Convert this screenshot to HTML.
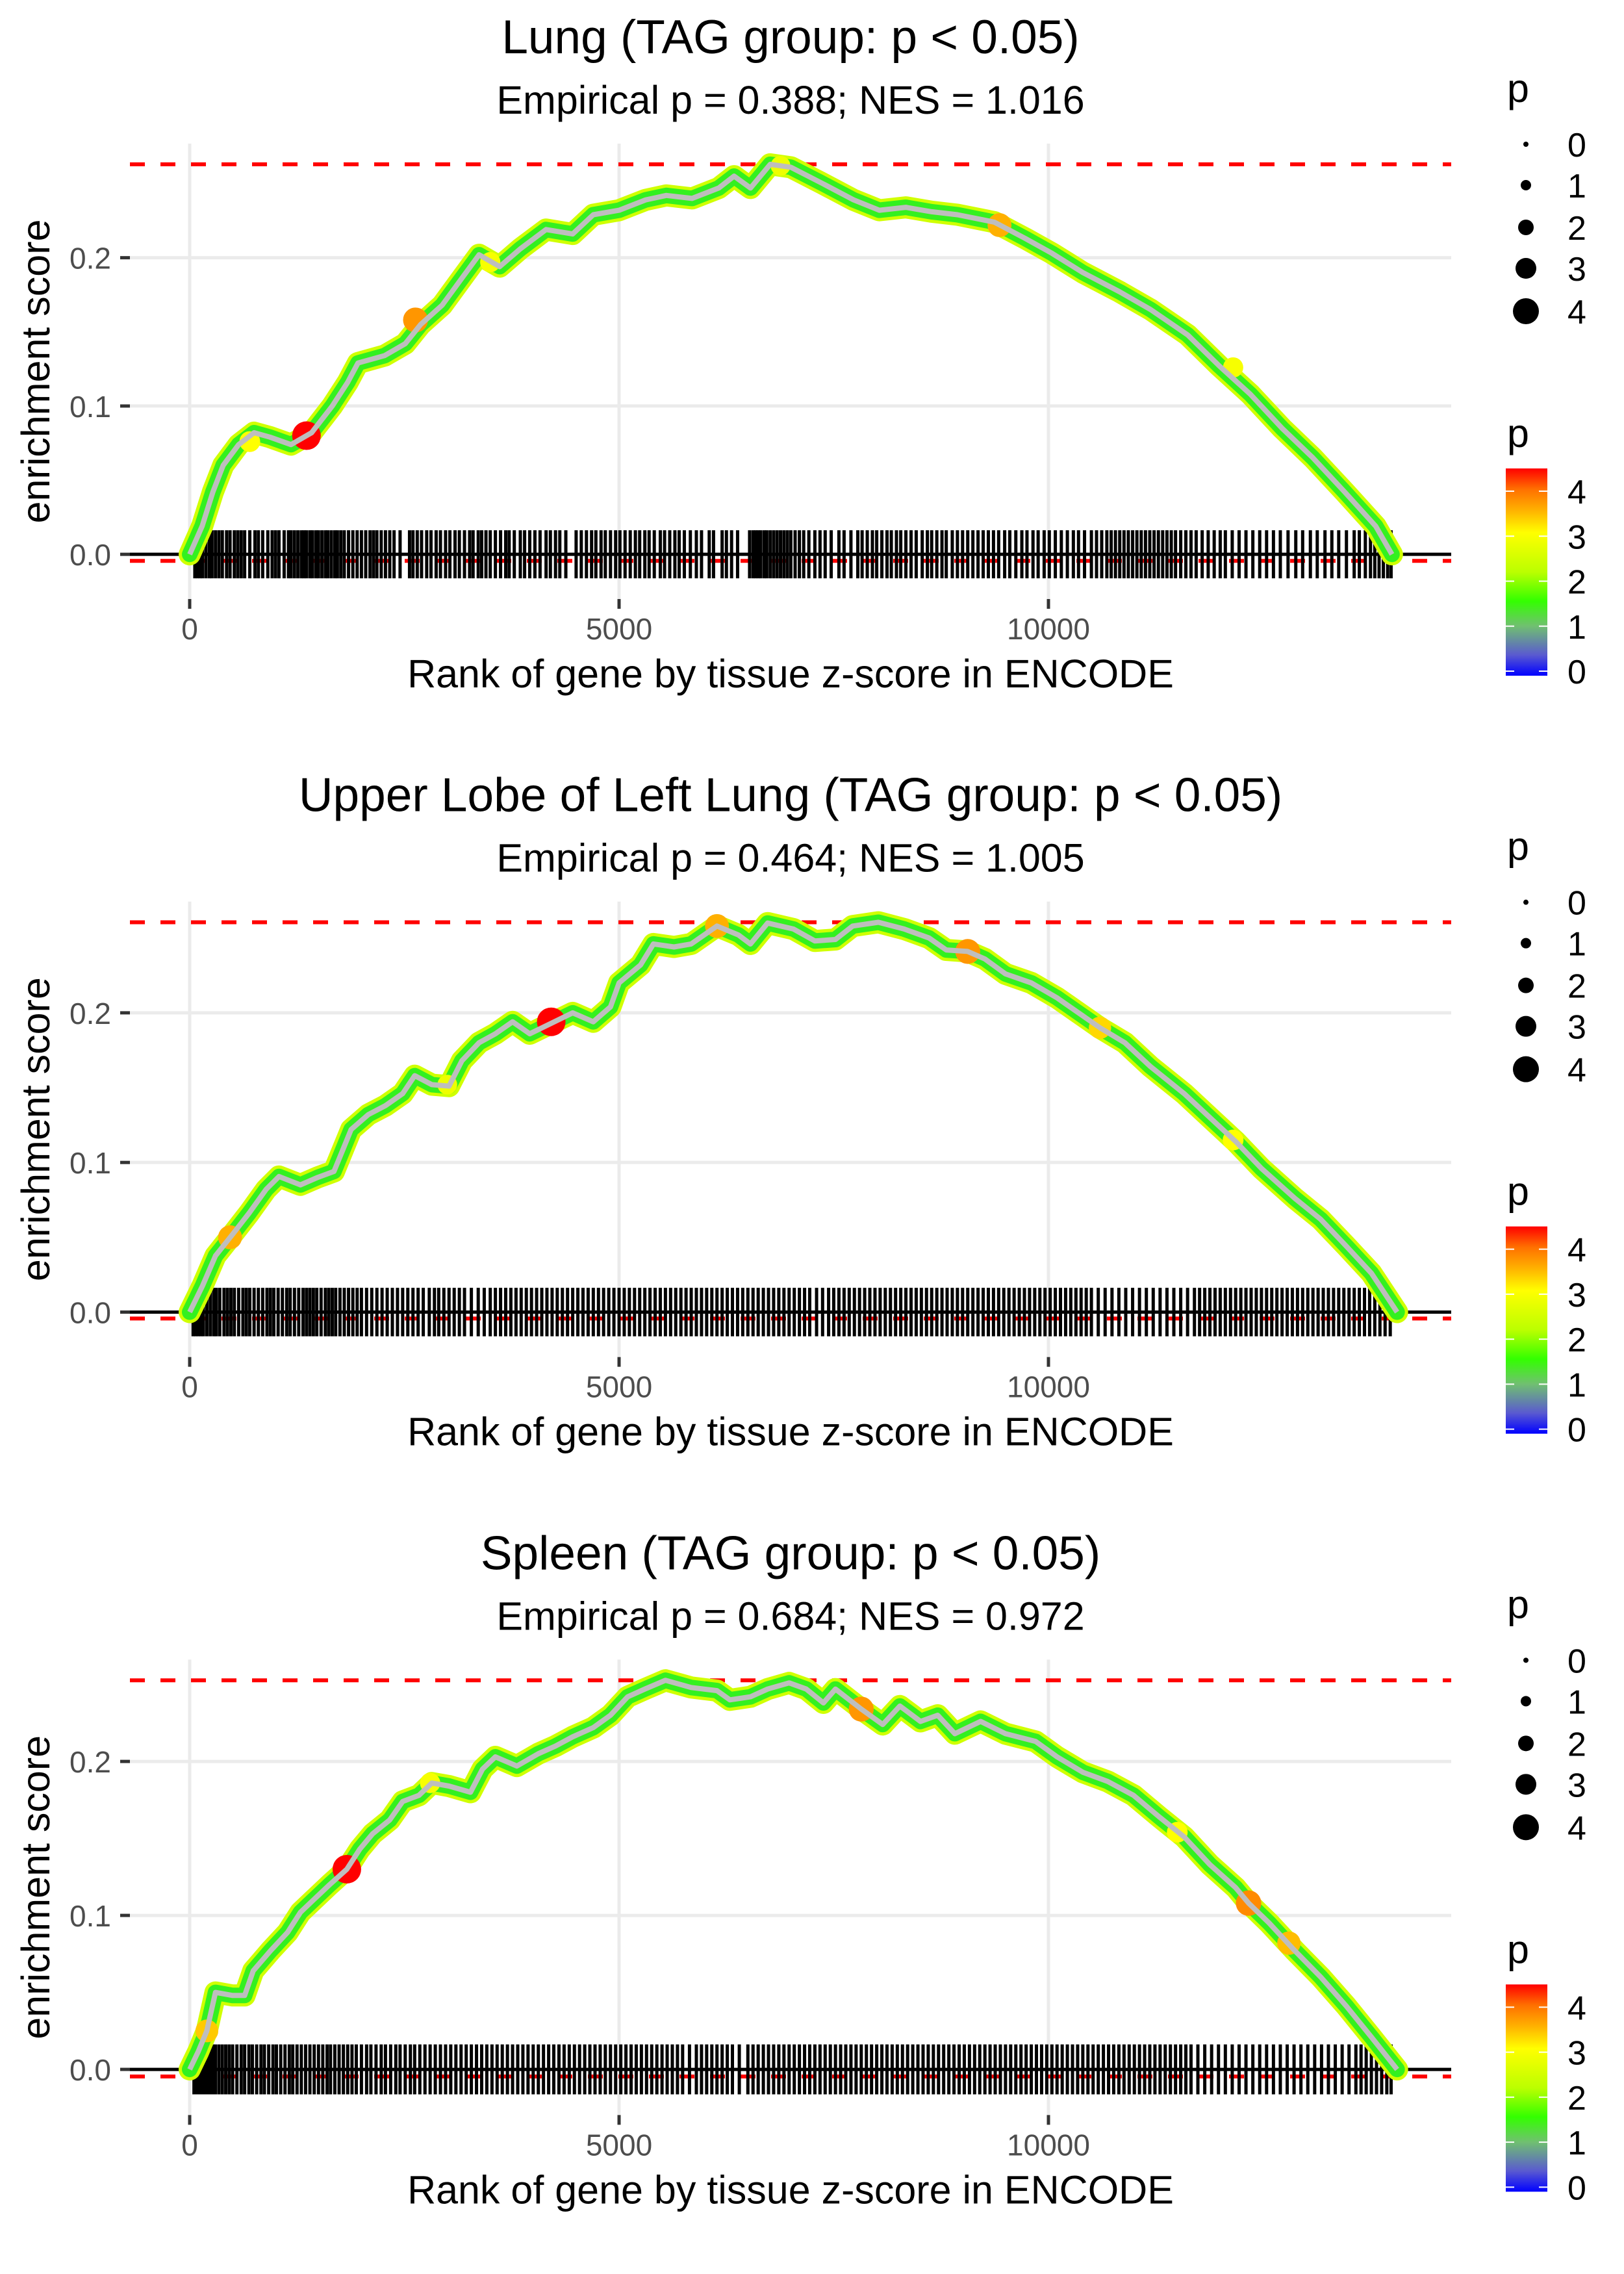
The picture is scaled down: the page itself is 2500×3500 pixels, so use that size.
<!DOCTYPE html>
<html><head><meta charset="utf-8"><title>Enrichment plots</title>
<style>html,body{margin:0;padding:0;background:#fff;}svg{display:block;}text{font-family:"Liberation Sans",Arial,sans-serif;}</style>
</head><body>
<svg id="chart" xmlns="http://www.w3.org/2000/svg" width="2500" height="3500" viewBox="0 0 2500 3500">
<defs>
<linearGradient id="pgrad" x1="0" y1="1" x2="0" y2="0">
<stop offset="0" stop-color="#0000ff"/>
<stop offset="0.1" stop-color="#5a5ad0"/>
<stop offset="0.24" stop-color="#70c070"/>
<stop offset="0.36" stop-color="#33ff00"/>
<stop offset="0.5" stop-color="#bbff00"/>
<stop offset="0.69" stop-color="#ffff00"/>
<stop offset="0.8" stop-color="#ffb000"/>
<stop offset="0.9" stop-color="#ff7000"/>
<stop offset="1" stop-color="#ff0000"/>
</linearGradient>
</defs>
</svg>
<script>
// ---- data ----
const panelTitles = ["Lung (TAG group: p < 0.05)", "Upper Lobe of Left Lung (TAG group: p < 0.05)", "Spleen (TAG group: p < 0.05)"];
const panelSubtitles = ["Empirical p = 0.388; NES = 1.016", "Empirical p = 0.464; NES = 1.005", "Empirical p = 0.684; NES = 0.972"];
const maxES = [0.263, 0.2605, 0.2527];
const minES = [-0.0044, -0.0043, -0.0046];
const xTicks = [0, 5000, 10000];
const yTicks = [0.0, 0.1, 0.2];
const yTickLabels = ["0.0", "0.1", "0.2"];
const sizeLegendValues = [0, 1, 2, 3, 4];
const colorLegendValues = [0, 1, 2, 3, 4];

const rank1 = [0,145,270,390,570,750,935,1180,1420,1660,1840,1960,2270,2510,2690,2940,3180,3370,3610,3850,4150,4460,4700,5000,5310,5550,5850,6160,6340,6530,6760,7000,7370,7730,8030,8340,8640,8940,9370,9730,10040,10400,10830,11190,11620,11990,12350,12720,13080,13450,13810,14000];
const es1 = [0,0.019,0.042,0.06,0.074,0.082,0.079,0.074,0.082,0.1,0.116,0.129,0.134,0.142,0.155,0.168,0.187,0.202,0.194,0.206,0.219,0.216,0.229,0.232,0.239,0.242,0.24,0.247,0.255,0.247,0.263,0.261,0.25,0.239,0.232,0.234,0.231,0.229,0.224,0.213,0.203,0.19,0.177,0.165,0.148,0.127,0.108,0.085,0.065,0.042,0.019,0];
const rank2 = [0,150,300,500,690,890,1040,1290,1490,1680,1780,1880,2080,2280,2480,2620,2820,3020,3170,3370,3560,3760,3960,4210,4460,4700,4900,5000,5250,5400,5640,5840,6140,6390,6530,6730,7030,7280,7520,7720,8020,8320,8610,8810,9060,9260,9500,9800,10100,10300,10600,10890,11190,11580,11880,12180,12480,12870,13170,13470,13760,14060];
const es2 = [0,0.0176,0.0376,0.052,0.066,0.082,0.0906,0.085,0.09,0.094,0.108,0.122,0.132,0.138,0.146,0.158,0.152,0.151,0.168,0.18,0.186,0.194,0.186,0.193,0.2,0.194,0.204,0.22,0.232,0.246,0.244,0.246,0.258,0.252,0.246,0.26,0.256,0.248,0.249,0.258,0.2605,0.256,0.25,0.242,0.241,0.236,0.226,0.22,0.21,0.202,0.19,0.18,0.164,0.146,0.13,0.114,0.096,0.076,0.062,0.044,0.026,0];
const rank3 = [0,100,200,300,500,640,740,940,1140,1290,1440,1630,1830,1980,2130,2330,2480,2670,2820,3020,3270,3410,3560,3810,4060,4260,4460,4700,4900,5100,5300,5540,5840,6140,6290,6530,6730,6980,7180,7380,7520,7820,8070,8270,8510,8710,8910,9210,9500,9850,10100,10400,10690,10990,11290,11580,11880,12180,12330,12570,12870,13170,13470,13760,14060];
const es3 = [0,0.0116,0.025,0.05,0.048,0.048,0.064,0.077,0.089,0.102,0.11,0.12,0.13,0.143,0.153,0.162,0.174,0.178,0.186,0.184,0.18,0.195,0.203,0.197,0.205,0.21,0.216,0.222,0.23,0.242,0.247,0.2527,0.248,0.246,0.24,0.242,0.247,0.251,0.247,0.238,0.247,0.234,0.224,0.236,0.226,0.23,0.218,0.226,0.218,0.213,0.203,0.193,0.187,0.178,0.164,0.151,0.133,0.118,0.108,0.095,0.077,0.06,0.041,0.021,0];

const hitRank1 = [1360,2630,9430,700,3500,6880,12150];
const hitES1 = [0.08,0.158,0.222,0.076,0.197,0.262,0.126];
const hitP1 = [4.5,3.8,3.6,3.0,2.9,2.8,2.9];
const hitRank2 = [4210,9060,6140,470,10600,12150,3000];
const hitES2 = [0.194,0.241,0.258,0.05,0.19,0.115,0.152];
const hitP2 = [4.5,3.8,3.6,3.6,3.3,3.0,2.8];
const hitRank3 = [1830,7820,12330,12800,200,2800,11500];
const hitES3 = [0.13,0.234,0.108,0.082,0.025,0.186,0.154];
const hitP3 = [4.5,3.8,3.9,3.5,3.4,2.9,3.0];

const rug1 = [60,90,120,150,190,230,260,300,340,380,430,470,520,560,600,640,700,760,800,850,910,960,1000,1040,1100,1150,1180,1220,1260,1300,1330,1360,1400,1430,1470,1500,1540,1580,1610,1650,1690,1720,1760,1800,1850,1900,1950,2000,2050,2100,2140,2180,2230,2280,2330,2380,2450,2560,2600,2650,2700,2760,2810,2870,2920,2980,3030,3090,3140,3200,3260,3300,3360,3400,3450,3500,3560,3620,3680,3720,3780,3850,3900,3960,4020,4080,4150,4200,4260,4310,4380,4500,4560,4620,4680,4730,4790,4840,4900,4960,5010,5070,5130,5190,5240,5300,5350,5410,5480,5530,5590,5650,5700,5760,5830,5900,5960,6050,6100,6200,6250,6310,6380,6520,6560,6590,6620,6650,6690,6720,6760,6800,6840,6880,6920,6960,7000,7050,7100,7150,7210,7280,7340,7400,7470,7560,7620,7700,7780,7830,7890,7950,8000,8060,8120,8170,8230,8280,8340,8400,8460,8530,8590,8640,8700,8760,8810,8880,8940,9000,9060,9120,9180,9240,9300,9360,9420,9490,9550,9620,9690,9750,9820,9880,9950,10010,10080,10150,10220,10290,10350,10420,10500,10560,10620,10680,10730,10780,10830,10880,10930,10980,11030,11080,11130,11180,11230,11280,11330,11380,11430,11480,11540,11600,11660,11720,11790,11860,11930,12000,12060,12140,12220,12300,12380,12460,12540,12620,12700,12790,12880,12960,13050,13130,13220,13300,13380,13470,13560,13620,13690,13750,13800,13850,13900,13950,13990];
const rug2 = [40,70,100,130,160,200,240,280,310,350,400,440,480,520,570,620,660,700,750,800,850,900,940,980,1030,1080,1130,1170,1220,1270,1320,1360,1400,1440,1480,1530,1580,1620,1660,1700,1750,1800,1850,1900,1950,2000,2060,2120,2180,2240,2300,2360,2420,2480,2540,2600,2660,2720,2790,2850,2900,2960,3020,3080,3140,3200,3280,3360,3430,3500,3560,3620,3680,3740,3800,3860,3920,3980,4040,4100,4160,4220,4280,4340,4400,4460,4520,4580,4640,4700,4760,4820,4880,4940,5000,5060,5120,5180,5240,5300,5360,5420,5480,5540,5600,5660,5720,5780,5840,5900,5960,6020,6080,6140,6200,6260,6320,6380,6440,6500,6560,6620,6680,6740,6800,6860,6920,6980,7040,7100,7160,7220,7300,7370,7440,7500,7560,7620,7680,7740,7800,7860,7920,7980,8040,8100,8160,8220,8280,8340,8400,8460,8520,8580,8640,8700,8760,8820,8880,8940,9000,9060,9120,9180,9240,9300,9360,9420,9480,9540,9600,9660,9720,9780,9840,9900,9960,10020,10080,10140,10200,10260,10320,10380,10440,10500,10580,10660,10740,10820,10900,10980,11060,11140,11220,11300,11380,11460,11540,11620,11700,11760,11820,11880,11940,12000,12060,12120,12180,12240,12300,12360,12420,12480,12540,12600,12660,12720,12780,12840,12900,12960,13020,13080,13140,13200,13260,13320,13380,13440,13500,13560,13620,13680,13740,13800,13860,13920,13980];
const rug3 = [50,70,90,110,130,150,180,210,240,270,300,340,380,420,460,500,550,600,640,690,730,780,830,870,920,970,1010,1060,1110,1160,1200,1250,1300,1350,1400,1450,1500,1550,1600,1640,1690,1740,1790,1840,1890,1940,2000,2060,2110,2170,2230,2280,2340,2400,2450,2510,2570,2620,2680,2740,2800,2860,2920,2980,3040,3100,3160,3220,3280,3340,3400,3460,3520,3580,3640,3700,3760,3820,3880,3940,4000,4060,4120,4180,4240,4300,4360,4420,4480,4540,4600,4660,4720,4780,4840,4900,4960,5020,5080,5140,5200,5260,5320,5380,5440,5500,5560,5620,5680,5740,5820,5900,5960,6020,6080,6140,6200,6260,6320,6400,6500,6560,6620,6680,6740,6800,6860,6920,6980,7040,7100,7160,7220,7280,7340,7400,7460,7520,7580,7640,7700,7760,7820,7880,7940,8000,8060,8120,8180,8240,8300,8360,8420,8480,8540,8600,8660,8720,8780,8840,8900,8960,9020,9080,9140,9200,9260,9320,9380,9440,9500,9560,9620,9680,9740,9800,9860,9920,9980,10040,10100,10160,10220,10280,10340,10400,10460,10520,10580,10640,10700,10760,10820,10880,10940,11000,11060,11120,11180,11240,11300,11360,11420,11480,11540,11600,11660,11740,11820,11900,11980,12060,12140,12220,12300,12380,12460,12540,12620,12700,12780,12860,12940,13020,13100,13180,13260,13340,13420,13500,13580,13640,13700,13760,13820,13880,13940,13990];

const ranks = [rank1, rank2, rank3];
const esVals = [es1, es2, es3];
const hitRanks = [hitRank1, hitRank2, hitRank3];
const hitESs = [hitES1, hitES2, hitES3];
const hitPs = [hitP1, hitP2, hitP3];
const rugs = [rug1, rug2, rug3];

// ---- layout ----
const NS = "http://www.w3.org/2000/svg";
const svg = document.getElementById("chart");
const PANEL_H = 3500 / 3;
const PL = 200, PR = 2234, X0 = 292, XS = 0.1322;
const RUG_H = 0.0162;

function mk(tag, attrs, parent) {
  const e = document.createElementNS(NS, tag);
  for (const k in attrs) e.setAttribute(k, attrs[k]);
  parent.appendChild(e);
  return e;
}
function pColor(p) {
  const stops = [[0,[0,0,255]],[0.5,[90,90,208]],[1,[112,192,112]],[1.6,[51,255,0]],[2.2,[187,255,0]],[3,[255,255,0]],[3.6,[255,176,0]],[4.1,[255,112,0]],[4.5,[255,0,0]]];
  if (p <= stops[0][0]) return "rgb(0,0,255)";
  for (let i = 1; i < stops.length; i++) {
    if (p <= stops[i][0]) {
      const t = (p - stops[i-1][0]) / (stops[i][0] - stops[i-1][0]);
      const a = stops[i-1][1], b = stops[i][1];
      return "rgb(" + a.map((v, j) => Math.round(v + (b[j] - v) * t)).join(",") + ")";
    }
  }
  return "rgb(255,0,0)";
}
function pRadius(p) { return 4 + 4 * p; }

for (let i = 0; i < 3; i++) {
  const off = i * PANEL_H;
  const top = 221 + off, bot = 922 + off;
  const lo = -RUG_H, hi = maxES[i];
  const rng = hi - lo;
  const yMin = lo - 0.05 * rng, yMax = hi + 0.05 * rng;
  const xPx = v => X0 + v * XS;
  const yPx = v => top + (yMax - v) / (yMax - yMin) * (bot - top);

  const g = mk("g", {}, svg);
  
  

  yTicks.forEach((t, k) => {
    const l = mk("line", {x1: PL, x2: PR, y1: yPx(t), y2: yPx(t), stroke: "#ebebeb", "stroke-width": 5}, g);
    
    
  });
  xTicks.forEach(t => {
    const l = mk("line", {x1: xPx(t), x2: xPx(t), y1: top, y2: bot, stroke: "#ebebeb", "stroke-width": 5}, g);
    
    
  });

  [maxES[i], minES[i]].forEach((v, k) => {
    const l = mk("line", {x1: PL, x2: PR, y1: yPx(v), y2: yPx(v), stroke: "#ff0000", "stroke-width": 6, "stroke-dasharray": "23 24"}, g);
    
    
  });

  const rg = mk("g", {}, g);
  
  
  rugs[i].forEach(r => {
    const l = mk("line", {x1: xPx(r), x2: xPx(r), y1: yPx(RUG_H), y2: yPx(-RUG_H), stroke: "#000", "stroke-width": 5}, rg);
    
    
  });

  const zl = mk("line", {x1: PL, x2: PR, y1: yPx(0), y2: yPx(0), stroke: "#000", "stroke-width": 5}, g);
  
  

  const pts = ranks[i].map((r, k) => xPx(r).toFixed(1) + "," + yPx(esVals[i][k]).toFixed(1)).join(" ");
  const b1 = mk("polyline", {points: pts, fill: "none", stroke: "#d0ff00", "stroke-width": 34, "stroke-linejoin": "round", "stroke-linecap": "round"}, g);
  
  
  const b2 = mk("polyline", {points: pts, fill: "none", stroke: "#33f020", "stroke-width": 24, "stroke-linejoin": "round", "stroke-linecap": "round"}, g);
  
  

  hitRanks[i].forEach((r, k) => {
    const c = mk("circle", {cx: xPx(r), cy: yPx(hitESs[i][k]), r: pRadius(hitPs[i][k]), fill: pColor(hitPs[i][k])}, g);
    
    
  });

  const ln = mk("polyline", {points: pts, fill: "none", stroke: "#bebebe", "stroke-width": 8, "stroke-linejoin": "round"}, g);
  
  

  yTicks.forEach((t, k) => {
    const tk = mk("line", {x1: 185, x2: 200, y1: yPx(t), y2: yPx(t), stroke: "#333", "stroke-width": 5}, g);
    
    
    const tx = mk("text", {x: 171, y: yPx(t) + 17, "text-anchor": "end", "font-size": 46, fill: "#4d4d4d"}, g);
    tx.textContent = yTickLabels[k];
    
    
  });
  xTicks.forEach(t => {
    const tk = mk("line", {x1: xPx(t), x2: xPx(t), y1: bot, y2: bot + 15, stroke: "#333", "stroke-width": 5}, g);
    
    
    const tx = mk("text", {x: xPx(t), y: 984 + off, "text-anchor": "middle", "font-size": 46, fill: "#4d4d4d"}, g);
    tx.textContent = String(t);
    
    
  });

  const ttl = mk("text", {x: 1217, y: 82 + off, "text-anchor": "middle", "font-size": 73, fill: "#000"}, g);
  ttl.textContent = panelTitles[i];
  
  
  const sub = mk("text", {x: 1217, y: 175 + off, "text-anchor": "middle", "font-size": 61, fill: "#000"}, g);
  sub.textContent = panelSubtitles[i];
  
  
  const xl = mk("text", {x: 1217, y: 1058 + off, "text-anchor": "middle", "font-size": 61, fill: "#000"}, g);
  xl.textContent = "Rank of gene by tissue z-score in ENCODE";
  
  
  const yc = (top + bot) / 2;
  const yl = mk("text", {x: 55, y: yc, "text-anchor": "middle", "dominant-baseline": "central", "font-size": 61, fill: "#000", transform: "rotate(-90 55 " + yc + ")"}, g);
  yl.textContent = "enrichment score";
  
  

  const sl = mk("g", {}, g);
  
  
  const st = mk("text", {x: 2320, y: 157 + off, "font-size": 61, fill: "#000"}, sl);
  st.textContent = "p";
  
  
  const sy = [222, 285, 350, 413, 479];
  sizeLegendValues.forEach((v, k) => {
    const c = mk("circle", {cx: 2349, cy: sy[k] + off, r: pRadius(v), fill: "#000"}, sl);
    
    
    const t = mk("text", {x: 2413, y: sy[k] + off + 19, "font-size": 52, fill: "#000"}, sl);
    t.textContent = String(v);
    
    
  });

  const cl = mk("g", {}, g);
  
  
  const ct = mk("text", {x: 2320, y: 688 + off, "font-size": 61, fill: "#000"}, cl);
  ct.textContent = "p";
  
  
  const barTop = 721 + off, barBot = 1040 + off;
  const bar = mk("rect", {x: 2318, y: barTop, width: 64, height: barBot - barTop, fill: "url(#pgrad)"}, cl);
  
  
  const cy = v => 1033 + off - v * 69.25;
  colorLegendValues.forEach(v => {
    const a = mk("line", {x1: 2318, x2: 2331, y1: cy(v), y2: cy(v), stroke: "#fff", "stroke-width": 2}, cl);
    
    
    const b = mk("line", {x1: 2369, x2: 2382, y1: cy(v), y2: cy(v), stroke: "#fff", "stroke-width": 2}, cl);
    
    
    const t = mk("text", {x: 2413, y: cy(v) + 19, "font-size": 52, fill: "#000"}, cl);
    t.textContent = String(v);
    
    
  });
}
</script>
</body></html>
